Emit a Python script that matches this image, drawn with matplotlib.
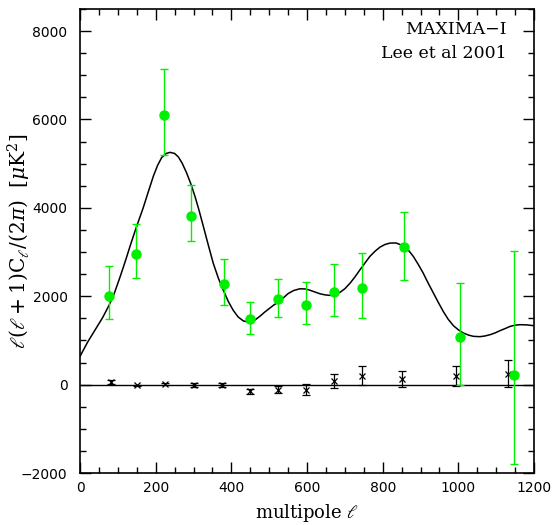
import numpy as np
from matplotlib import pyplot as plt
from matplotlib.ticker import MultipleLocator

# MAXIMA-I band powers
ell = [77, 148, 222, 294, 381, 449, 523, 597, 672, 746, 857, 1005, 1148]
power = [1995, 2960, 6090, 3820, 2270, 1475, 1935, 1812, 2102, 2185, 3103, 1085, 226]
err_hi = [680, 680, 1050, 690, 570, 385, 465, 510, 625, 785, 800, 1220, 2790]
err_lo = [500, 555, 900, 565, 470, 330, 405, 440, 550, 670, 737, 1085, 2020]

# null test (difference maps)
null_ell = [82, 150, 225, 300, 376, 449, 523, 597, 670, 746, 850, 994, 1132]
null_val = [60, -15, 15, -8, -8, -151, -113, -113, 83, 203, 128, 188, 249]
null_err = [45, 12, 20, 40, 50, 50, 83, 124, 165, 211, 177, 226, 298]

# best-fit model curve
model_ell = [0, 20, 40, 60, 77, 90, 106, 120, 132, 148, 160, 167, 180, 194,
             205, 216, 228, 238, 250, 260, 270, 282, 293, 304, 315, 326, 339,
             352, 366, 379, 392, 405, 418, 432, 449, 462, 476, 488, 500, 512,
             523, 537, 550, 565, 581, 595, 608, 621, 634, 648, 661, 674, 687,
             700, 714, 727, 740, 753, 766, 780, 793, 806, 819, 835, 855, 868,
             881, 894, 907, 920, 934, 947, 960, 973, 987, 1000, 1013, 1027,
             1040, 1057, 1070, 1084, 1097, 1110, 1124, 1137, 1150, 1163, 1180,
             1200]
model_pow = [640, 960, 1240, 1520, 1800, 2050, 2440, 2800, 3126, 3540, 3830,
             4000, 4350, 4720, 4960, 5140, 5230, 5255, 5230, 5150, 5010, 4784,
             4540, 4256, 3930, 3578, 3160, 2750, 2400, 2130, 1880, 1680, 1530,
             1440, 1410, 1460, 1550, 1640, 1720, 1800, 1860, 1960, 2060, 2130,
             2168, 2165, 2135, 2095, 2056, 2030, 2019, 2035, 2087, 2170, 2298,
             2440, 2599, 2750, 2900, 3020, 3112, 3170, 3202, 3205, 3141, 3040,
             2900, 2720, 2524, 2300, 2072, 1860, 1657, 1480, 1333, 1240, 1168,
             1120, 1092, 1085, 1100, 1130, 1170, 1220, 1270, 1318, 1345, 1356,
             1352, 1333]

plt.rcParams['mathtext.fontset'] = 'dejavuserif'

fig = plt.figure(figsize=(5.53, 5.25), dpi=100)
ax = fig.add_axes([0.1447, 0.099, 0.821, 0.884])

ax.axhline(0, color='black', lw=1.0, zorder=1)
ax.plot(model_ell, model_pow, color='black', lw=1.1, zorder=2)

ax.errorbar(null_ell, null_val, yerr=null_err, fmt='x', color='black',
            ms=4.5, mew=0.9, elinewidth=0.9, capsize=3, capthick=0.9, zorder=3)
ax.errorbar(ell, power, yerr=[err_lo, err_hi], fmt='o', color='#00f000',
            ms=6.5, elinewidth=1.0, capsize=3, capthick=1.0, zorder=4)

ax.set_xlim(0, 1200)
ax.set_ylim(-2000, 8500)
ax.xaxis.set_major_locator(MultipleLocator(200))
ax.xaxis.set_minor_locator(MultipleLocator(50))
ax.set_yticks([-2000, 0, 2000, 4000, 6000, 8000])
ax.yaxis.set_minor_locator(MultipleLocator(500))
ax.tick_params(which='both', direction='in', top=True, right=True,
               labelsize=10, width=1.0)
ax.tick_params(which='major', length=8)
ax.tick_params(which='minor', length=4)
ax.tick_params(axis='y', pad=9)
ax.tick_params(axis='x', pad=6)
for s in ax.spines.values():
    s.set_linewidth(1.2)

ax.set_xlabel(r'multipole $\ell$', family='DejaVu Serif', fontsize=13)
ax.xaxis.set_label_coords(0.5, -0.062)
ax.xaxis.label.set_va('top')
ax.set_ylabel(r'$\ell(\ell+1)\mathrm{C}_\ell/(2\pi)\ \ [\mu\mathrm{K}^2]$',
              fontsize=14.5)
ax.yaxis.set_label_coords(-0.104, 0.5)

ax.text(0.94, 0.955, 'MAXIMA\u2212I', transform=ax.transAxes, ha='right',
        va='center', family='DejaVu Serif', fontsize=12.5)
ax.text(0.94, 0.905, 'Lee et al 2001', transform=ax.transAxes, ha='right',
        va='center', family='DejaVu Serif', fontsize=12.5)

fig.savefig('out.png', dpi=100)
